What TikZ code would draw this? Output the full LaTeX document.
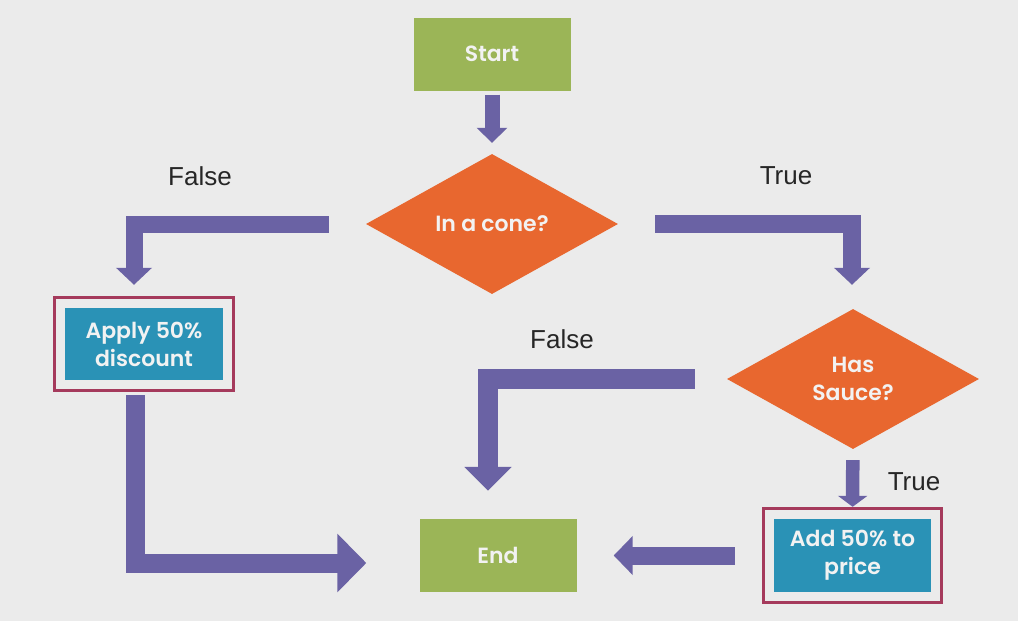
\documentclass[tikz,border=0pt]{standalone}
\usepackage{fontspec}
\setmainfont{Liberation Sans}
\newfontfamily\boxfont{Poppins}[BoldFont={Poppins SemiBold}]
\usetikzlibrary{arrows.meta,shapes.geometric,fit}

\definecolor{bggray}{HTML}{EBEBEB}
\definecolor{stepgreen}{HTML}{9BB557}
\definecolor{askorange}{HTML}{E8672F}
\definecolor{flowpurple}{HTML}{6A62A4}
\definecolor{actblue}{HTML}{2A92B6}
\definecolor{markred}{HTML}{A53A5C}
\definecolor{boxtext}{HTML}{F2F2F2}

\tikzset{
  boxtxt/.style={text=boxtext, font=\boxfont\bfseries\fontsize{22}{28}\selectfont, align=center},
  terminal/.style={boxtxt, rectangle, fill=stepgreen, minimum width=157pt, minimum height=73pt},
  question/.style={boxtxt, diamond, fill=askorange, inner sep=0pt, minimum width=252pt, minimum height=140pt},
  action/.style={boxtxt, rectangle, fill=actblue, minimum width=158pt, minimum height=72pt},
  highlight/.style={draw=markred, line width=3pt, inner sep=10.5pt},
  branch/.style={font=\fontsize{26}{30}\selectfont, text=black!85},
  fat/.style args={#1/#2/#3}{draw=flowpurple, line width=#1, line join=miter,
    -{Triangle[width=#2, length=#3]}}
}

\begin{document}
\begin{tikzpicture}[x=1pt, y=-1pt]
    % Background
    \fill[bggray] (0,0) rectangle (1018,621);

    % Draw nodes
    \node[terminal] (start) at (492,54) {Start};
    \node[question] (cone) at (492,224) {In a cone?};
    \node[question] (sauce) at (853,379) {Has\\Sauce?};
    \node[action] (apply) at (144,344) {Apply 50\%\\discount};
    \node[highlight, fit=(apply)] (applyhl) {};
    \node[action, minimum width=157pt, minimum height=73pt] (add) at (852.5,555.5) {Add 50\% to\\price};
    \node[highlight, fit=(add)] (addhl) {};
    \node[terminal] (end) at (498,555.5) {End};

    % Branch labels
    \node[branch] (lfalse) at (200,176) {False};
    \node[branch] (ltrue) at (786,176) {True};
    \node[branch] (sfalse) at (562,339) {False};
    \node[branch] (strue) at (914,482) {True};

    % Draw directed edges
    \draw[fat=15pt/30pt/15pt, shorten <=4pt, shorten >=11pt] (start) -- (cone);
    \draw[fat=17pt/35pt/17pt, shorten <=37pt, shorten >=11pt] (cone.west) -| ([xshift=-10pt]applyhl.north); % False
    \draw[fat=17.5pt/35pt/17pt, shorten <=37pt, shorten >=24pt] (cone.east) -| ([xshift=-1pt]sauce.north); % True
    \draw[fat=20pt/46pt/24pt, shorten <=32pt, shorten >=28pt] (sauce.west) -| ([xshift=-10pt]end.north); % False
    \draw[fat=13.5pt/29pt/11pt, shorten <=11pt] (sauce) -- (addhl); % True
    \draw[fat=18pt/38pt/19pt, shorten <=27pt, shorten >=37pt] (addhl) -- (end);
    \draw[fat=19pt/57pt/29pt, shorten <=3pt, shorten >=53pt] ([xshift=-9pt]applyhl.south) |- ([yshift=-7.5pt]end.west);
\end{tikzpicture}
\end{document}
